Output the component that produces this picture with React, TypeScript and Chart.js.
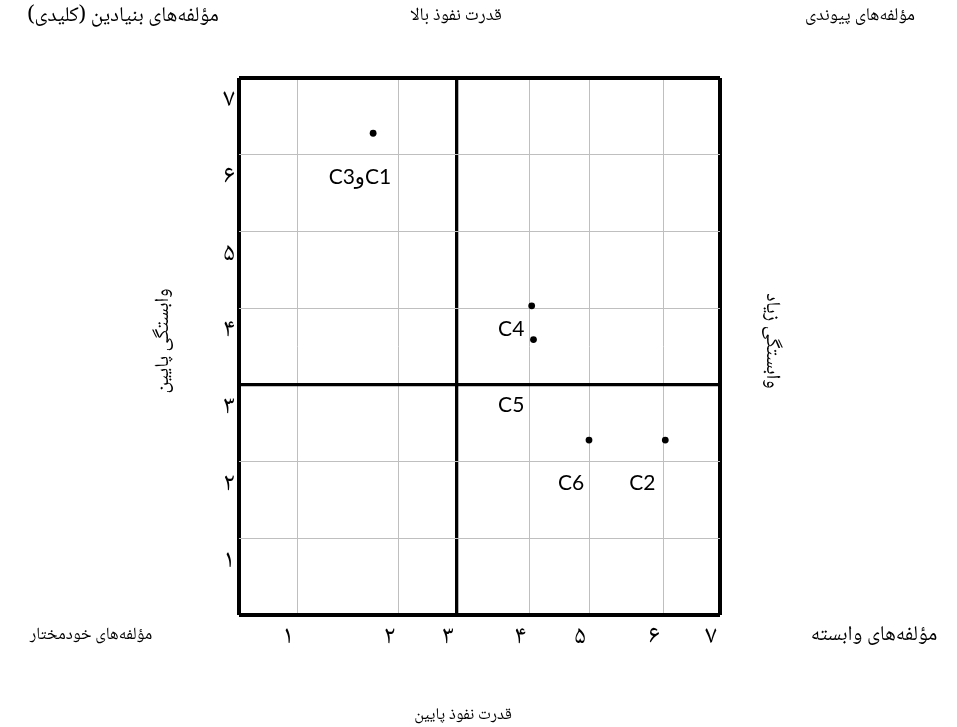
import React, { useEffect, useRef } from 'react';
import { Chart, registerables, LinearScale } from 'chart.js';

Chart.register(...registerables);

// ---------- data ----------
const X_TICK_LABELS = ['', '۱', '۲', '۳', '۴', '۵', '۶', '۷'];
const Y_TICK_LABELS = ['', '۱', '۲', '۳', '۴', '۵', '۶', '۷'];

const POINT_X = [1.75, 4.04, 4.07, 5.0, 6.04];
const POINT_Y = [6.28, 4.03, 3.59, 2.28, 2.28];

const LABEL_TEXT = ['C1وC3', 'C4', 'C5', 'C6', 'C2'];
const LABEL_X = [1.62, 3.75, 3.75, 4.7, 5.72];
const LABEL_Y = [5.71, 3.72, 2.74, 1.72, 1.72];

const TOP_LEFT = 'مؤلفه\u200cهای بنیادین (کلیدی)';
const TOP_CENTER = 'قدرت نفوذ بالا';
const TOP_RIGHT = 'مؤلفه\u200cهای پیوندی';
const BOTTOM_LEFT = 'مؤلفه\u200cهای خودمختار';
const BOTTOM_RIGHT = 'مؤلفه\u200cهای وابسته';
const BOTTOM_CENTER = 'قدرت نفوذ پایین';
const LEFT_TITLE = 'وابستگی پایین';
const RIGHT_TITLE = 'وابستگی زیاد';

// uneven widths of the unit cells along the horizontal axis (as drawn in the reference)
const X_CELL_WIDTHS = [58, 101.5, 58.5, 72.3, 59.7, 74, 57];

// ---------- styles ----------
const FA_FONT = "'Noto Naskh Arabic', 'Noto Sans Arabic', 'DejaVu Sans', sans-serif";
const LATIN_FONT = "Lato, 'Noto Sans', 'DejaVu Sans', sans-serif";

class PiecewiseScale extends LinearScale {
  static id = 'piecewise';
  static defaults = LinearScale.defaults;

  toDecimal(v: number) {
    const w = X_CELL_WIDTHS;
    const total = w.reduce((a, b) => a + b, 0);
    let acc = 0;
    if (v <= 0) return (v * w[0]) / total;
    for (let i = 0; i < w.length; i++) {
      if (v <= i + 1 || i === w.length - 1) {
        return (acc + (v - i) * w[i]) / total;
      }
      acc += w[i];
    }
    return 1;
  }

  getPixelForValue(value: any) {
    if (value === null || value === undefined || isNaN(value)) return NaN;
    return (this as any).getPixelForDecimal(this.toDecimal(+value));
  }

  getValueForPixel(pixel: number) {
    const d = (this as any).getDecimalForPixel(pixel);
    const w = X_CELL_WIDTHS;
    const total = w.reduce((a, b) => a + b, 0);
    let target = d * total;
    for (let i = 0; i < w.length; i++) {
      if (target <= w[i] || i === w.length - 1) return i + target / w[i];
      target -= w[i];
    }
    return w.length;
  }
}
Chart.register(PiecewiseScale as any);

const gridColor = (ctx: any) => {
  const v = ctx.tick && ctx.tick.value;
  return v === 0 || v === 3 || v === 7 ? '#000000' : '#bfbfbf';
};
const gridWidth = (ctx: any) => {
  const v = ctx.tick && ctx.tick.value;
  if (v === 0 || v === 7) return 4;
  if (v === 3) return 3.3;
  return 1;
};

const labelsPlugin = {
  id: 'pointLabels',
  afterDatasetsDraw(chart: any) {
    const { ctx, scales } = chart;
    const x = scales.x;
    const y = scales.y;
    ctx.save();
    ctx.font = `21px ${LATIN_FONT}`;
    ctx.fillStyle = '#000';
    ctx.textAlign = 'center';
    ctx.textBaseline = 'middle';
    ctx.direction = 'rtl';
    LABEL_TEXT.forEach((t, i) => {
      ctx.fillText(t, x.getPixelForValue(LABEL_X[i]), y.getPixelForValue(LABEL_Y[i]));
    });
    ctx.restore();
  },
};

const outerTextPlugin = {
  id: 'outerTexts',
  afterDraw(chart: any) {
    const { ctx } = chart;
    ctx.save();
    ctx.fillStyle = '#000';
    ctx.textAlign = 'center';
    ctx.textBaseline = 'middle';
    ctx.direction = 'rtl';
    const items: [string, number, number, number, number][] = [
      [TOP_LEFT, 123, 18, 0, 21],
      [TOP_CENTER, 456, 18, 0, 18],
      [TOP_RIGHT, 860, 18, 0, 18],
      [BOTTOM_LEFT, 91, 637, 0, 17],
      [BOTTOM_RIGHT, 874, 637, 0, 21],
      [BOTTOM_CENTER, 463, 717, 0, 16.5],
      [LEFT_TITLE, 165, 341, -Math.PI / 2, 20],
      [RIGHT_TITLE, 770, 341, Math.PI / 2, 20],
    ];
    items.forEach(([t, px, py, rot, size]) => {
      ctx.save();
      ctx.font = `${size}px ${FA_FONT}`;
      ctx.translate(px, py);
      ctx.rotate(rot);
      ctx.fillText(t, 0, 0);
      ctx.restore();
    });
    ctx.restore();
  },
};

export default function App() {
  const canvasRef = useRef<HTMLCanvasElement | null>(null);

  useEffect(() => {
    const canvas = canvasRef.current;
    if (!canvas) return;
    const chart = new Chart(canvas, {
      type: 'scatter',
      data: {
        datasets: [
          {
            data: POINT_X.map((x, i) => ({ x, y: POINT_Y[i] })),
            backgroundColor: '#000',
            borderColor: '#000',
            borderWidth: 0,
            pointRadius: 3.4,
          },
        ],
      },
      options: {
        responsive: false,
        animation: false,
        devicePixelRatio: 1,
        layout: { padding: { left: 0, right: 237, top: 78, bottom: 0 } },
        plugins: {
          legend: { display: false },
          tooltip: { enabled: false },
        },
        scales: {
          x: {
            type: 'piecewise' as any,
            position: 'bottom',
            min: 0,
            max: 7,
            ticks: {
              stepSize: 1,
              autoSkip: false,
              maxRotation: 0,
              labelOffset: -9,
              padding: 9,
              color: '#000',
              font: { family: FA_FONT, size: 26 },
              callback: (v: any) => X_TICK_LABELS[Math.round(v)] ?? '',
            },
            grid: { color: gridColor, lineWidth: gridWidth, drawTicks: false },
            border: { display: false },
            afterFit: (s: any) => {
              s.height = 112;
            },
          } as any,
          y: {
            type: 'linear',
            position: 'left',
            min: 0,
            max: 7,
            ticks: {
              stepSize: 1,
              autoSkip: false,
              labelOffset: 25,
              padding: 4,
              color: '#000',
              font: { family: FA_FONT, size: 26 },
              callback: (v: any) => Y_TICK_LABELS[Math.round(v)] ?? '',
            },
            grid: { color: gridColor, lineWidth: gridWidth, drawTicks: false },
            border: { display: false },
            afterFit: (s: any) => {
              s.width = 239;
            },
          } as any,
        },
      },
      plugins: [labelsPlugin, outerTextPlugin],
    });
    return () => chart.destroy();
  }, []);

  return (
    <div style={{ position: 'fixed', left: 0, top: 0, width: 957, height: 727, background: '#fff' }}>
      <canvas ref={canvasRef} width={957} height={727} style={{ width: 957, height: 727, display: 'block' }} />
    </div>
  );
}
